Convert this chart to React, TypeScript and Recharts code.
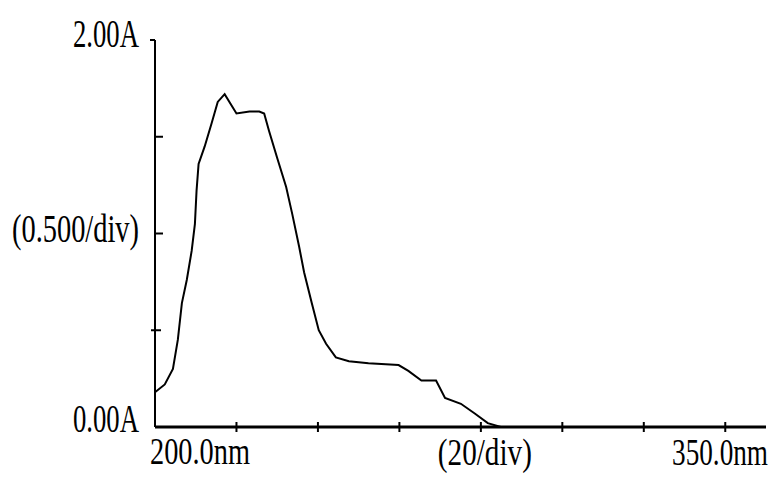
import React from 'react';
import { LineChart, Line, XAxis, YAxis } from 'recharts';

// wavelength (nm) and absorbance (A)
const wavelengths = [
  200, 202.4, 204.4, 205.6, 206.6, 207.8, 209.0, 209.8, 210.2, 210.7, 212.2, 213.9, 215.4, 217.1,
  220.0, 223.2, 225.6, 226.8, 228.0, 230.0, 232.2, 233.7, 235.4, 236.6, 238.5, 240.2, 242.0,
  244.4, 247.6, 252.4, 259.8, 262.2, 265.4, 269.0, 271.2, 275.1, 278.5, 281.7, 284.9, 300, 350,
];
const absorbance = [
  0.18, 0.22, 0.30, 0.45, 0.64, 0.76, 0.91, 1.05, 1.22, 1.36, 1.45, 1.57, 1.68, 1.72,
  1.62, 1.63, 1.63, 1.62, 1.53, 1.39, 1.24, 1.10, 0.93, 0.80, 0.64, 0.50, 0.43,
  0.36, 0.34, 0.33, 0.32, 0.29, 0.24, 0.24, 0.15, 0.12, 0.07, 0.02, 0.0, 0.0, 0.0,
];

const yTicks = [0, 0.5, 1, 1.5, 2];
const xTicks = [200, 220, 240, 260, 280, 300, 320, 340, 350];

const yLabels: Record<number, string> = { 0: '0.00A', 1: '(0.500/div)', 2: '2.00A' };
const xLabels: Record<number, string> = { 200: '200.0nm', 280: '(20/div)', 350: '350.0nm' };

const data = wavelengths.map((nm, i) => ({ nm, a: absorbance[i] }));

const FONT = '"Liberation Serif", "DejaVu Serif", serif';

const YTick = ({ x, y, payload }: any) => {
  const v = payload.value;
  const label = yLabels[v];
  const widths: Record<number, number> = { 0: 66, 1: 127, 2: 66 };
  const dys: Record<number, number> = { 0: 5, 1: 8, 2: 7 };
  const tick = v === 2 ? [x - 5, x] : v === 0.5 ? [x - 4, x + 6] : v === 0 ? [x, x] : [x, x + 8];
  return (
    <g>
      <line x1={tick[0]} x2={tick[1]} y1={y} y2={y} stroke="#000" strokeWidth={2} />
      {label && (
        <text
          x={x - 16 - widths[v]}
          y={y + dys[v]}
          textAnchor="start"
          fontFamily={FONT}
          fontSize={40}
          fill="#000"
          textLength={widths[v]}
          lengthAdjust="spacingAndGlyphs"
        >
          {label}
        </text>
      )}
    </g>
  );
};

const XTick = ({ x, y, payload }: any) => {
  const v = payload.value;
  const label = xLabels[v];
  const showTick = v !== 200 && v !== 350;
  if (v === 350) {
    // squeeze the end label with a transform so its box stays inside the frame
    return (
      <text
        transform={`translate(${x + 2} ${y + 38}) scale(0.716 1)`}
        textAnchor="end"
        fontFamily={FONT}
        fontSize={38}
        fill="#000"
      >
        {label}
      </text>
    );
  }
  let lx = x;
  let w = 100;
  let dy = 37;
  if (v === 200) { lx = x - 5; w = 100; dy = 37; }
  if (v === 280) { lx = x - 43; w = 94; dy = 38; }
  return (
    <g>
      {showTick && <line x1={x} x2={x} y1={y - 5} y2={y + 5} stroke="#000" strokeWidth={2} />}
      {label && (
        <text
          x={lx}
          y={y + dy}
          textAnchor="start"
          fontFamily={FONT}
          fontSize={38}
          fill="#000"
          textLength={w}
          lengthAdjust="spacingAndGlyphs"
        >
          {label}
        </text>
      )}
    </g>
  );
};

export default function App() {
  return (
    <div style={{ width: 779, height: 478, background: '#fff' }}>
      <style>{'body{margin:0}'}</style>
      <LineChart width={779} height={478} data={data} margin={{ top: 40, right: 13, left: 0, bottom: 0 }}>
        <XAxis
          dataKey="nm"
          type="number"
          domain={[200, 350]}
          ticks={xTicks}
          height={51}
          axisLine={{ stroke: '#000', strokeWidth: 3 }}
          tickLine={false}
          tickSize={0}
          tickMargin={0}
          tick={<XTick />}
          interval={0}
        />
        <YAxis
          type="number"
          domain={[0, 2]}
          ticks={yTicks}
          width={155}
          axisLine={{ stroke: '#000', strokeWidth: 2 }}
          tickLine={false}
          tickSize={0}
          tickMargin={0}
          tick={<YTick />}
          interval={0}
        />
        <Line
          type="linear"
          dataKey="a"
          stroke="#000"
          strokeWidth={2}
          dot={false}
          isAnimationActive={false}
        />
      </LineChart>
    </div>
  );
}
